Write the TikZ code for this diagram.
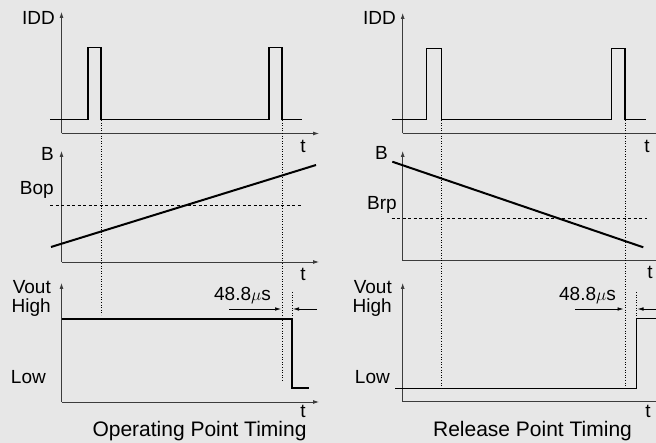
\documentclass[tikz,border=0pt]{standalone}
\usepackage{fontspec}
\setmainfont{Liberation Sans}
\usetikzlibrary{arrows.meta}
\definecolor{bgc}{RGB}{231,231,231}
\definecolor{axc}{RGB}{60,60,60}
\tikzset{
  axis/.style={draw=axc,line width=0.8pt,-{Latex[length=6pt,width=4pt]}},
  sig/.style={draw=black,line width=1.3pt,line join=miter},
  bline/.style={draw=black,line width=2pt},
  vdot/.style={draw=black,line width=0.6pt,dotted},
  hdash/.style={draw=black,line width=0.6pt,dash pattern=on 3pt off 2.5pt},
  dimarrow/.style={draw=black,line width=0.6pt,-{Latex[length=6pt,width=3.5pt]}},
  lbl/.style={font=\fontsize{19}{19}\selectfont,inner sep=0pt},
  ttl/.style={font=\fontsize{21}{21}\selectfont,inner sep=0pt}
}
\begin{document}
\begin{tikzpicture}[x=1pt,y=-1pt]
\fill[bgc] (0,0) rectangle (656,443);
\useasboundingbox (0,0) rectangle (656,443);
% ---------------- LEFT: Operating Point Timing ----------------
% IDD panel
\draw[axis] (61.5,133.5) -- (61.5,12);
\draw[axis] (61.5,133.5) -- (319,133.5);
\node[lbl,anchor=east] (idd1) at (55,17.5) {IDD};
\node[lbl] (t1a) at (303,146) {t};
\draw[sig] (50,119.5) -- (88,119.5) -- (88,47.5) -- (101,47.5) -- (101,119.5) -- (269,119.5) -- (269,47.5) -- (282,47.5) -- (282,119.5) -- (302,119.5);
% B panel
\draw[axis] (61.5,262) -- (61.5,151);
\draw[axis] (61.5,262) -- (319,262);
\node[lbl,anchor=east] (b1) at (54,154) {B};
\node[lbl,anchor=east] (bop) at (54,190) {Bop};
\node[lbl] (t1b) at (303,274) {t};
\draw[hdash] (50,205) -- (302,205);
\draw[bline] (51,247) -- (316,165);
% Vout panel
\draw[axis] (61.5,402) -- (61.5,283);
\draw[axis] (61.5,402) -- (319,402);
\node[lbl,anchor=east] (vout1) at (51,287) {Vout};
\node[lbl,anchor=east] (high1) at (51,308) {High};
\node[lbl,anchor=east] (low1) at (46,377) {Low};
\node[lbl] (t1c) at (303,411) {t};
\draw[sig] (61.5,319) -- (292,319) -- (292,388) -- (309,388);
% dotted guides
\draw[vdot] (101,120) -- (101,315);
\draw[vdot] (282,120) -- (282,382);
\draw[vdot] (292,292) -- (292,318);
\node[lbl] (d1) at (242.5,296) {48.8$\mu$s};
\coordinate (a1s) at (229,309);
\coordinate (a1e) at (281,309);
\coordinate (a1r) at (317,309);
\coordinate (a1f) at (293,309);
\draw[dimarrow] (a1s) -- (a1e);
\draw[dimarrow] (a1r) -- (a1f);
\node[ttl] (title1) at (199.5,431.5) {Operating Point Timing};
% ---------------- RIGHT: Release Point Timing ----------------
% IDD panel
\draw[axis] (402.7,133.3) -- (402.7,13);
\draw[axis] (402.7,133.3) -- (662,133.3);
\node[lbl,anchor=east] (idd2) at (396,17.5) {IDD};
\node[lbl] (t2a) at (647,146) {t};
\draw[sig] (391.7,119.3) -- (426.7,119.3) -- (426.7,48.3) -- (441.7,48.3) -- (441.7,119.3) -- (611.7,119.3) -- (611.7,48.3) -- (625,48.3) -- (625,119.3) -- (646,119.3);
% B panel
\draw[axis] (402.7,260.7) -- (402.7,151);
\draw[axis] (402.7,260.7) -- (662,260.7);
\node[lbl,anchor=east] (b2) at (388,153) {B};
\node[lbl,anchor=east] (brp) at (397,205) {Brp};
\node[lbl] (t2b) at (650,272) {t};
\draw[hdash] (391.7,218.7) -- (646.7,218.7);
\draw[bline] (392.3,161.7) -- (643.3,247.3);
% Vout panel
\draw[axis] (402.7,401.7) -- (402.7,283);
\draw[axis] (402.7,401.7) -- (662,401.7);
\node[lbl,anchor=east] (vout2) at (392,287) {Vout};
\node[lbl,anchor=east] (high2) at (392,308) {High};
\node[lbl,anchor=east] (low2) at (390,377) {Low};
\node[lbl] (t2c) at (648,411) {t};
\draw[sig] (395,388.3) -- (636.7,388.3) -- (636.7,318.3) -- (662,318.3);
% dotted guides
\draw[vdot] (441.7,120) -- (441.7,386);
\draw[vdot] (625.3,120) -- (625.3,386);
\draw[vdot] (636,292) -- (636,318);
\node[lbl] (d2) at (587.5,296) {48.8$\mu$s};
\coordinate (a2s) at (575,309);
\coordinate (a2e) at (623.5,309);
\coordinate (a2r) at (660,309);
\coordinate (a2f) at (637.5,309);
\draw[dimarrow] (a2s) -- (a2e);
\draw[dimarrow] (a2r) -- (a2f);
\node[ttl] (title2) at (532.5,431.5) {Release Point Timing};
\end{tikzpicture}
\end{document}
